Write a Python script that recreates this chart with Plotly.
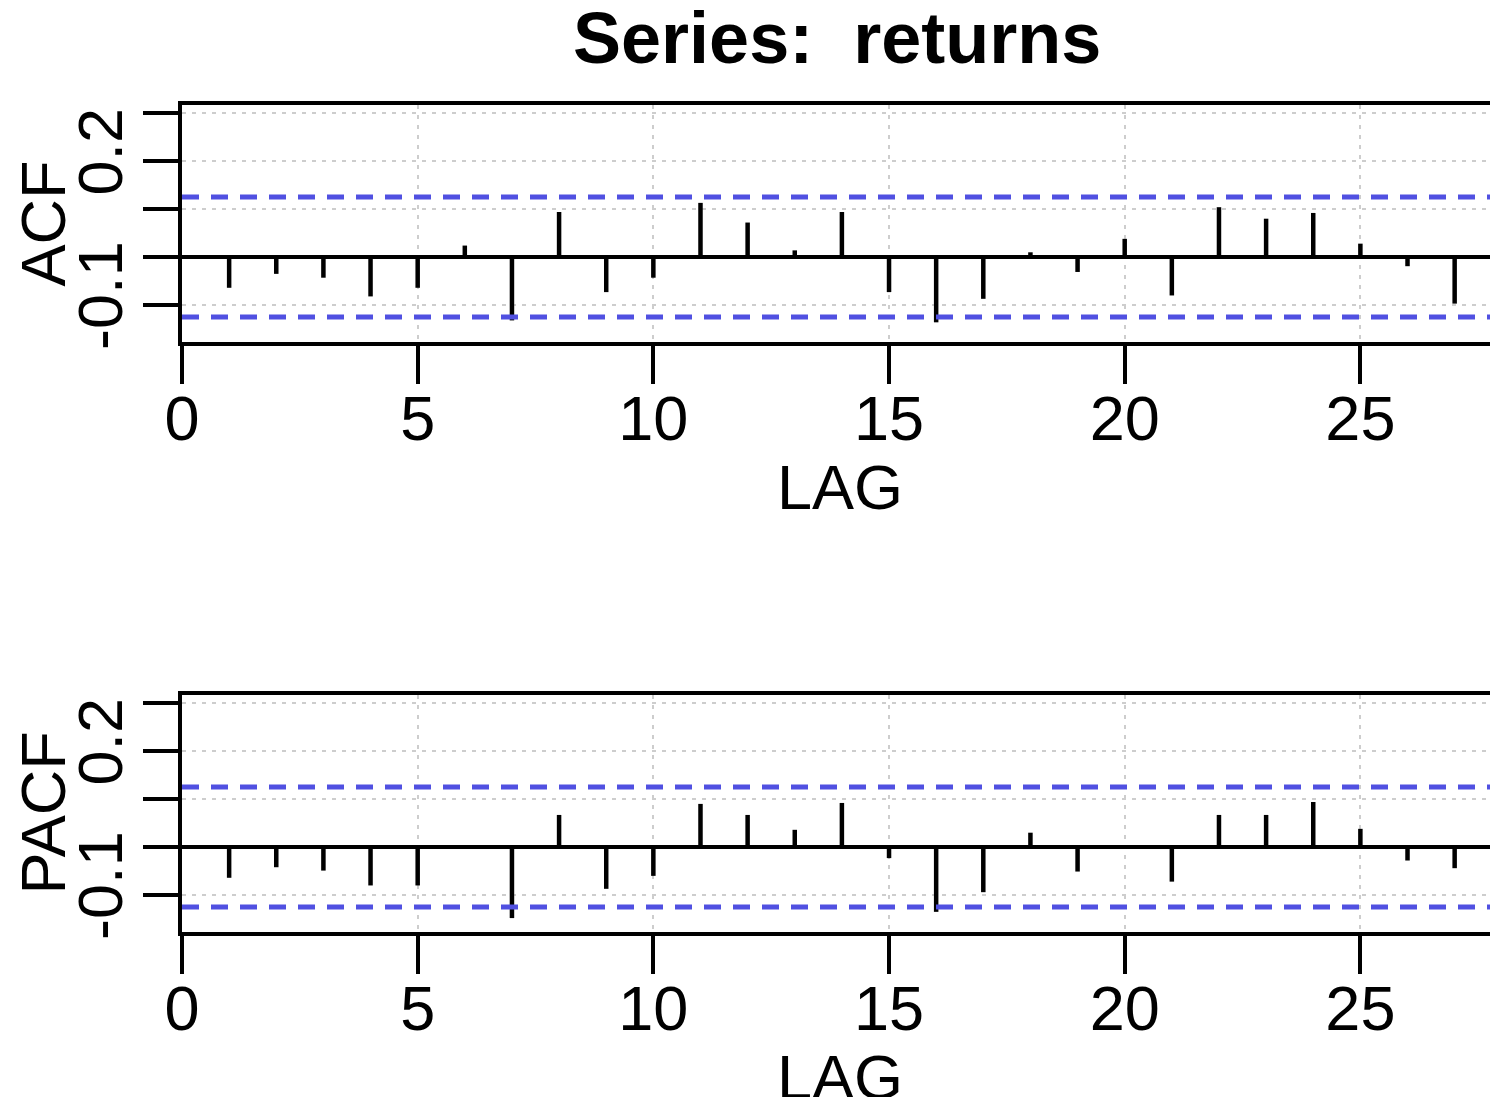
import plotly.graph_objects as go

# ---- data ----
lags = list(range(1, 28))
acf_vals = [-0.064, -0.035, -0.043, -0.082, -0.064, 0.024, -0.132, 0.094, -0.073, -0.043,
            0.113, 0.072, 0.014, 0.094, -0.073, -0.136, -0.087, 0.010, -0.031, 0.038,
            -0.080, 0.104, 0.080, 0.092, 0.028, -0.019, -0.097]
pacf_vals = [-0.064, -0.042, -0.049, -0.080, -0.080, 0.004, -0.148, 0.067, -0.087, -0.060,
             0.090, 0.067, 0.036, 0.092, -0.023, -0.135, -0.094, 0.030, -0.051, 0.004,
             -0.072, 0.067, 0.067, 0.094, 0.038, -0.028, -0.044]
conf_bound = 0.125
x_ticks = [0, 5, 10, 15, 20, 25]
y_ticks = [-0.1, 0.0, 0.1, 0.2, 0.3]
y_ticktext = ["-0.1", "", "", "0.2", ""]
title_text = "Series:\u00a0 returns"

W, H = 1490, 1097
FONT = "Liberation Sans, Arial, sans-serif"
FS = 63

x_range = [0, 27.75]
y_range = [-0.177, 0.317]

# panel pixel geometry
left_px = 182
panels = [
    dict(top=105, bottom=342, vals=acf_vals, name="ACF", xa="x", ya="y"),
    dict(top=695, bottom=932, vals=pacf_vals, name="PACF", xa="x2", ya="y2"),
]

fig = go.Figure()
layout_axes = {}
annotations = []

for i, p in enumerate(panels):
    # stems
    xs, ys = [], []
    for lg, v in zip(lags, p["vals"]):
        xs += [lg, lg, None]
        ys += [0, v, None]
    fig.add_trace(go.Scatter(x=xs, y=ys, mode="lines",
                             line=dict(color="black", width=4.5),
                             xaxis=p["xa"], yaxis=p["ya"], showlegend=False,
                             hoverinfo="skip"))
    # confidence bounds
    for b in (conf_bound, -conf_bound):
        fig.add_trace(go.Scatter(x=x_range, y=[b, b], mode="lines",
                                 line=dict(color="rgb(80,80,225)", width=5, dash="17px,12px"),
                                 xaxis=p["xa"], yaxis=p["ya"], showlegend=False,
                                 hoverinfo="skip"))

    suffix = "" if i == 0 else str(i + 1)
    ydom = [1 - p["bottom"] / H, 1 - p["top"] / H]
    layout_axes["xaxis" + suffix] = dict(
        domain=[left_px / W, 1], range=x_range, anchor="y" + suffix,
        tickvals=x_ticks, ticks="outside", ticklen=38, tickwidth=4, tickcolor="black",
        showline=True, linecolor="black", linewidth=4, mirror=True,
        showgrid=True, gridcolor="rgb(205,205,205)", gridwidth=2, griddash="4px,6px",
        zeroline=False, tickfont=dict(family=FONT, size=FS, color="black"),
        automargin=False, ticklabelstandoff=-20,
    )
    layout_axes["yaxis" + suffix] = dict(
        domain=ydom, range=y_range, anchor="x" + suffix,
        tickvals=y_ticks, ticktext=y_ticktext, tickangle=-90,
        ticks="outside", ticklen=35, tickwidth=4, tickcolor="black",
        showline=True, linecolor="black", linewidth=4, mirror=False,
        showgrid=True, gridcolor="rgb(205,205,205)", gridwidth=2, griddash="4px,6px",
        zeroline=True, zerolinecolor="black", zerolinewidth=4,
        tickfont=dict(family=FONT, size=FS, color="black"),
        automargin=False, ticklabelstandoff=-4,
    )
    # axis titles
    annotations.append(dict(text=p["name"], x=42 / W, y=1 - (p["top"] + p["bottom"]) / 2 / H,
                            xref="paper", yref="paper", showarrow=False, textangle=-90,
                            xanchor="center", yanchor="middle",
                            font=dict(family=FONT, size=FS, color="black")))
    annotations.append(dict(text="LAG", x=840 / W, y=1 - (p["bottom"] + 145) / H,
                            xref="paper", yref="paper", showarrow=False,
                            xanchor="center", yanchor="middle",
                            font=dict(family=FONT, size=FS, color="black")))

annotations.append(dict(text="<b>" + title_text + "</b>", x=837 / W, y=1 - 38 / H,
                        xref="paper", yref="paper", showarrow=False,
                        xanchor="center", yanchor="middle",
                        font=dict(family=FONT, size=72, color="black")))

fig.update_layout(
    width=W, height=H,
    margin=dict(l=0, r=0, t=0, b=0),
    paper_bgcolor="white", plot_bgcolor="white",
    annotations=annotations,
    **layout_axes,
)

fig.write_html("out.html")
